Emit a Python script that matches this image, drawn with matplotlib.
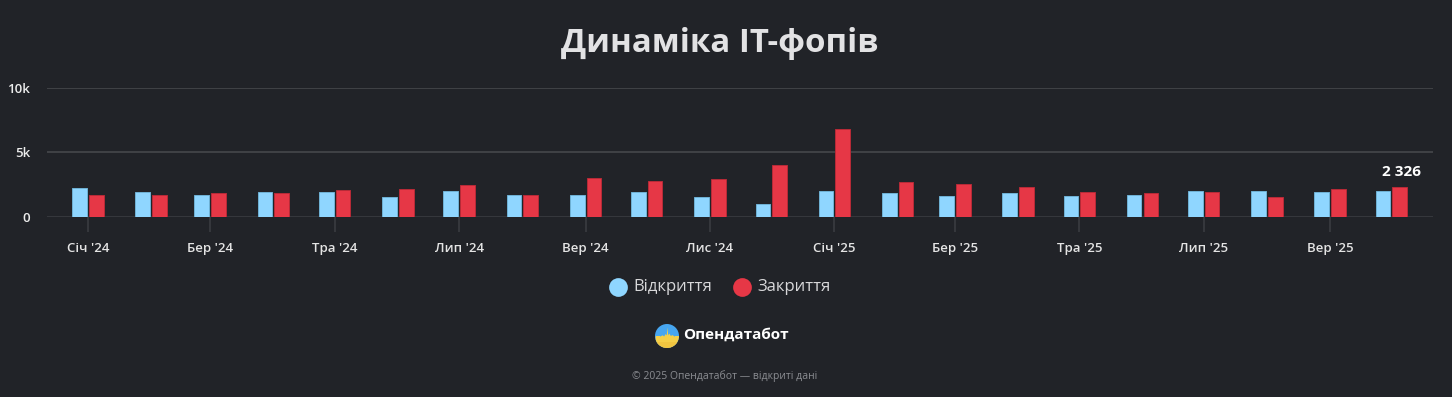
import matplotlib
matplotlib.use("Agg")
import matplotlib.pyplot as plt
import matplotlib.dates as mdates
from matplotlib.lines import Line2D
from matplotlib.patches import Circle
import numpy as np
import datetime as dt

plt.rcParams['font.family'] = ['Open Sans', 'DejaVu Sans']

# ---- data ----
months = [dt.date(2024, m, 1) for m in range(1, 13)] + [dt.date(2025, m, 1) for m in range(1, 11)]
opened = [2270, 1910, 1735, 1910, 1910, 1580, 1990, 1735, 1735, 1910, 1580, 970,
          1990, 1836, 1658, 1836, 1658, 1735, 1990, 1990, 1910, 1990]
closed = [1735, 1735, 1836, 1836, 2090, 2193, 2448, 1735, 3035, 2780, 2958, 4054,
          6808, 2678, 2524, 2346, 1910, 1836, 1910, 1580, 2193, 2326]
tick_dates = [dt.date(2024, 1, 1), dt.date(2024, 3, 1), dt.date(2024, 5, 1), dt.date(2024, 7, 1),
              dt.date(2024, 9, 1), dt.date(2024, 11, 1), dt.date(2025, 1, 1), dt.date(2025, 3, 1),
              dt.date(2025, 5, 1), dt.date(2025, 7, 1), dt.date(2025, 9, 1)]
tick_labels = ["Січ '24", "Бер '24", "Тра '24", "Лип '24", "Вер '24", "Лис '24",
               "Січ '25", "Бер '25", "Тра '25", "Лип '25", "Вер '25"]
y_ticks = [0, 5000, 10000]
y_labels = ["0", "5k", "10k"]
series_names = ["Відкриття", "Закриття"]
last_label = "2 326"

BG = "#212328"
BLUE = "#8fd6ff"
RED = "#e63746"

fig = plt.figure(figsize=(14.52, 3.97), dpi=100, facecolor=BG)
W, H = 1452, 397
ax = fig.add_axes([47 / W, (H - 217) / H, (1433 - 47) / W, (217 - 87.7) / H])
ax.set_facecolor(BG)

x = mdates.date2num(months)
bw = 7.2
off = bw / 2 + 0.5
ax.bar(x - off, opened, width=bw, color=BLUE, edgecolor="#6fb2d6", linewidth=0.7, zorder=3)
ax.bar(x + off, closed, width=bw, color=RED, edgecolor="#b82a37", linewidth=0.7, zorder=3)

ax.set_xlim(mdates.date2num(dt.date(2024, 1, 1)) - 20, mdates.date2num(dt.date(2025, 10, 1)) + 20.4)
ax.set_ylim(0, 10000)

for s in ax.spines.values():
    s.set_visible(False)
ax.axhline(0, color="#3a3c41", lw=1.2, zorder=2)
for yv in [5000, 10000]:
    ax.axhline(yv, color="#46484c", lw=1.2, zorder=1)

ax.set_xticks(mdates.date2num(tick_dates))
ax.set_xticklabels(tick_labels, fontsize=9.5, color="#e4e4e4", fontweight="semibold")
ax.tick_params(axis="x", length=11, width=1.2, color="#3a3c41", pad=7)
ax.set_yticks(y_ticks)
ax.set_yticklabels(y_labels, fontsize=9.5, color="#ececec", fontweight="semibold")
ax.tick_params(axis="y", length=0, pad=12)

# data label on last bar
ax.annotate(last_label, (x[-1] + off, closed[-1]), xytext=(1, 6), textcoords="offset points",
            ha="center", va="bottom", fontsize=11, fontweight="bold", color="white", zorder=5)

# title
fig.text(720 / W, 1 - 44 / H, "Динаміка IT-фопів", ha="center", va="center",
         fontsize=23.8, fontweight="bold", color="#e2e2e4")

# legend
ly = 1 - 287 / H
fig.add_artist(Line2D([618 / W], [ly], marker="o", markersize=13.5, color=BLUE,
                      markeredgewidth=0, transform=fig.transFigure, linestyle="none"))
fig.text(633 / W, ly, series_names[0], ha="left", va="center", fontsize=12, color="#d8d8da")
fig.add_artist(Line2D([742 / W], [ly], marker="o", markersize=13.5, color=RED,
                      markeredgewidth=0, transform=fig.transFigure, linestyle="none"))
fig.text(757 / W, ly, series_names[1], ha="left", va="center", fontsize=12, color="#d8d8da")

# logo
lax = fig.add_axes([655 / W, 1 - 348 / H, 24 / W, 24 / H])
lax.set_axis_off()
lax.set_xlim(0, 1)
lax.set_ylim(0, 1)
circ = Circle((0.5, 0.5), 0.5, transform=lax.transData)
lax.add_patch(Circle((0.5, 0.5), 0.5, color="#47a6f0", lw=0))
wx = np.array([0.0, 0.2, 0.3, 0.36, 0.42, 0.47, 0.5, 0.53, 0.58, 0.64, 0.7, 0.8, 1.0])
wy = np.array([0.5, 0.5, 0.55, 0.5, 0.6, 0.55, 0.88, 0.55, 0.62, 0.52, 0.56, 0.5, 0.5])
poly = lax.fill_between(wx, 0, wy, color="#f5cf48", lw=0)
poly.set_clip_path(circ)
lower = lax.fill_between([0, 1], 0, 0.25, color="#efbf3c", lw=0, alpha=0.6)
lower.set_clip_path(circ)
fig.text(683 / W, 1 - 335 / H, "Опендатабот", ha="left", va="center", fontsize=11,
         fontweight="bold", color="white")

# footer
fig.text(725 / W, 1 - 376 / H, "© 2025 Опендатабот — відкриті дані", ha="center", va="center",
         fontsize=7.5, color="#8b8d92")

fig.savefig("out.png", dpi=100, facecolor=BG)
